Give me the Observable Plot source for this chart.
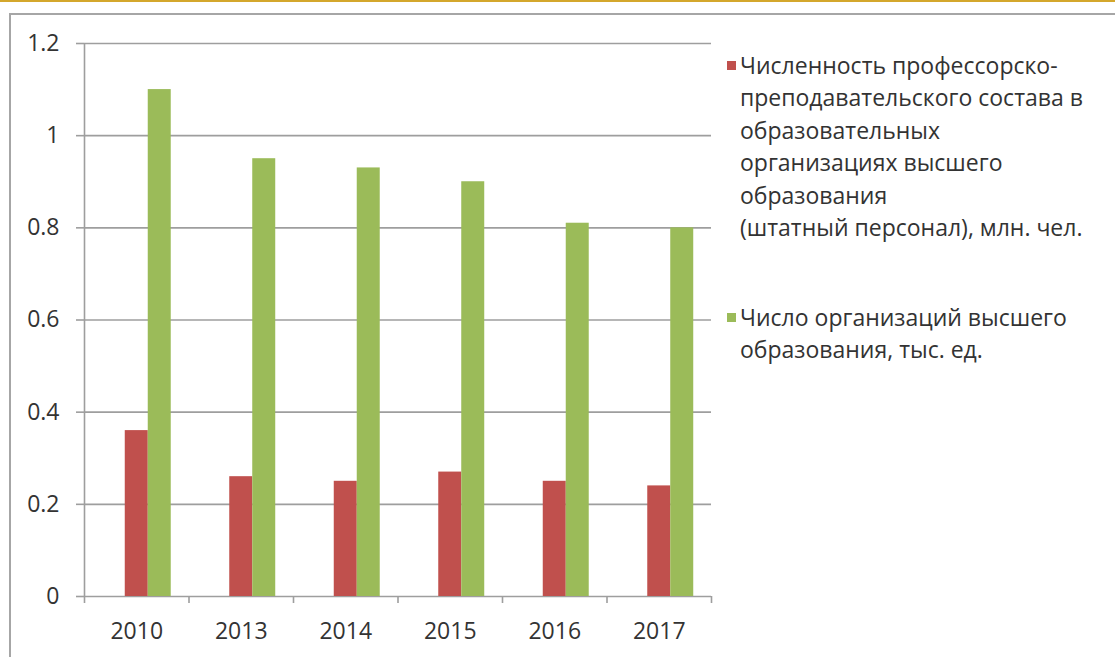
<!DOCTYPE html>
<html><head><meta charset="utf-8">
<script src="https://cdn.jsdelivr.net/npm/d3@7"></script>
<script src="https://cdn.jsdelivr.net/npm/@observablehq/plot@0.6"></script>
<style>
body{margin:0;background:#fff;}
#wrap{position:relative;width:1115px;height:657px;overflow:hidden;font-family:"Open Sans",sans-serif;color:#333;background:#fff;}
#gold{position:absolute;left:0;top:0;width:1115px;height:2px;background:#D4A72C;}
#frame{position:absolute;left:9px;top:13px;width:1200px;height:700px;border-left:2px solid #A6A6A6;border-top:2px solid #A6A6A6;}
.layer{position:absolute;left:0;top:0;}
.layer svg{background:transparent !important;}
.leg{position:absolute;left:727px;font-size:23px;line-height:32.4px;}
.leg .sw{position:absolute;left:0;top:12px;width:9px;height:9px;}
.leg .tx{position:absolute;left:13px;top:0;white-space:nowrap;}
</style></head>
<body>
<div id="wrap">
  <div id="gold"></div>
  <div id="frame"></div>
  <div id="grid" class="layer"></div>
  <div id="bars" class="layer"></div>
</div>
<script>
const years = ["2010", "2013", "2014", "2015", "2016", "2017"];
const staff = [0.36, 0.26, 0.25, 0.27, 0.25, 0.24];
const orgs = [1.1, 0.95, 0.93, 0.9, 0.81, 0.8];
const seriesNames = [
  "Численность профессорско-преподавательского состава в образовательных организациях высшего образования (штатный персонал), млн. чел.",
  "Число организаций высшего образования, тыс. ед."
];
const legendLines = [
  ["Численность профессорско-", "преподавательского состава в", "образовательных", "организациях высшего", "образования", "(штатный персонал), млн. чел."],
  ["Число организаций высшего", "образования, тыс. ед."]
];
const seriesColors = ["#C0504D", "#9BBB59"];
const yTicks = [0, 0.2, 0.4, 0.6, 0.8, 1, 1.2];
const yTickLabels = ["0", "0.2", "0.4", "0.6", "0.8", "1", "1.2"];
const blankSeries = " ";

const rows = [];
years.forEach((yr, i) => {
  rows.push({year: yr, series: seriesNames[0], value: staff[i]});
  rows.push({year: yr, series: seriesNames[1], value: orgs[i]});
});

const W = 720, H = 657, mT = 43, mB = 61, mL = 84, mR = 9;
const FS = 23;
const gridColor = "#9E9E9E";

const gridPlot = Plot.plot({
  width: W, height: H, marginTop: mT, marginBottom: mB, marginLeft: mL, marginRight: mR,
  style: {background: "transparent", color: "#333", fontFamily: "Open Sans, sans-serif"},
  x: {domain: [0, years.length], axis: null},
  y: {domain: [0, 1.2], axis: null},
  marks: [
    Plot.gridY(yTicks, {stroke: gridColor, strokeOpacity: 1, strokeWidth: 1.6}),
    Plot.ruleX([0], {stroke: gridColor, strokeWidth: 1.6}),
    Plot.axisY({ticks: yTicks, tickSize: 8, tickPadding: 17, stroke: gridColor, strokeWidth: 1.6,
      tickFormat: (d) => yTickLabels[yTicks.indexOf(d)], fontSize: FS, fill: "#333", label: null}),
    Plot.axisX({ticks: d3.range(years.length + 1), tickSize: 7, stroke: gridColor, strokeWidth: 1.6,
      tickFormat: () => "", label: null})
  ]
});
document.getElementById("grid").appendChild(gridPlot);

const barPlot = Plot.plot({
  width: W, height: H, marginTop: mT, marginBottom: mB, marginLeft: mL, marginRight: mR,
  style: {background: "transparent", color: "#333", fontFamily: "Open Sans, sans-serif"},
  fx: {domain: years, paddingInner: 0.34, paddingOuter: 0.17, round: false, label: null},
  x: {domain: [blankSeries, ...seriesNames], padding: 0, round: false, axis: null},
  y: {domain: [0, 1.2], axis: null},
  color: {domain: seriesNames, range: seriesColors},
  marks: [
    Plot.barY(rows, {fx: "year", x: "series", y: "value", fill: "series", insetLeft: 0, insetRight: 0}),
    Plot.axisFx({anchor: "bottom", tickSize: 0, tickPadding: 26, fontSize: FS, fill: "#333", label: null})
  ]
});
document.getElementById("bars").appendChild(barPlot);

// legend
const wrap = document.getElementById("wrap");
const legendTops = [49, 301];
seriesNames.forEach((name, i) => {
  const item = document.createElement("div");
  item.className = "leg";
  item.style.top = legendTops[i] + "px";
  item.title = name;
  const sw = document.createElement("div");
  sw.className = "sw";
  sw.style.background = seriesColors[i];
  const tx = document.createElement("div");
  tx.className = "tx";
  tx.innerHTML = legendLines[i].map(s => s.replace(/&/g, "&amp;").replace(/</g, "&lt;")).join("<br>");
  item.appendChild(sw);
  item.appendChild(tx);
  wrap.appendChild(item);
});
</script>
</body></html>
